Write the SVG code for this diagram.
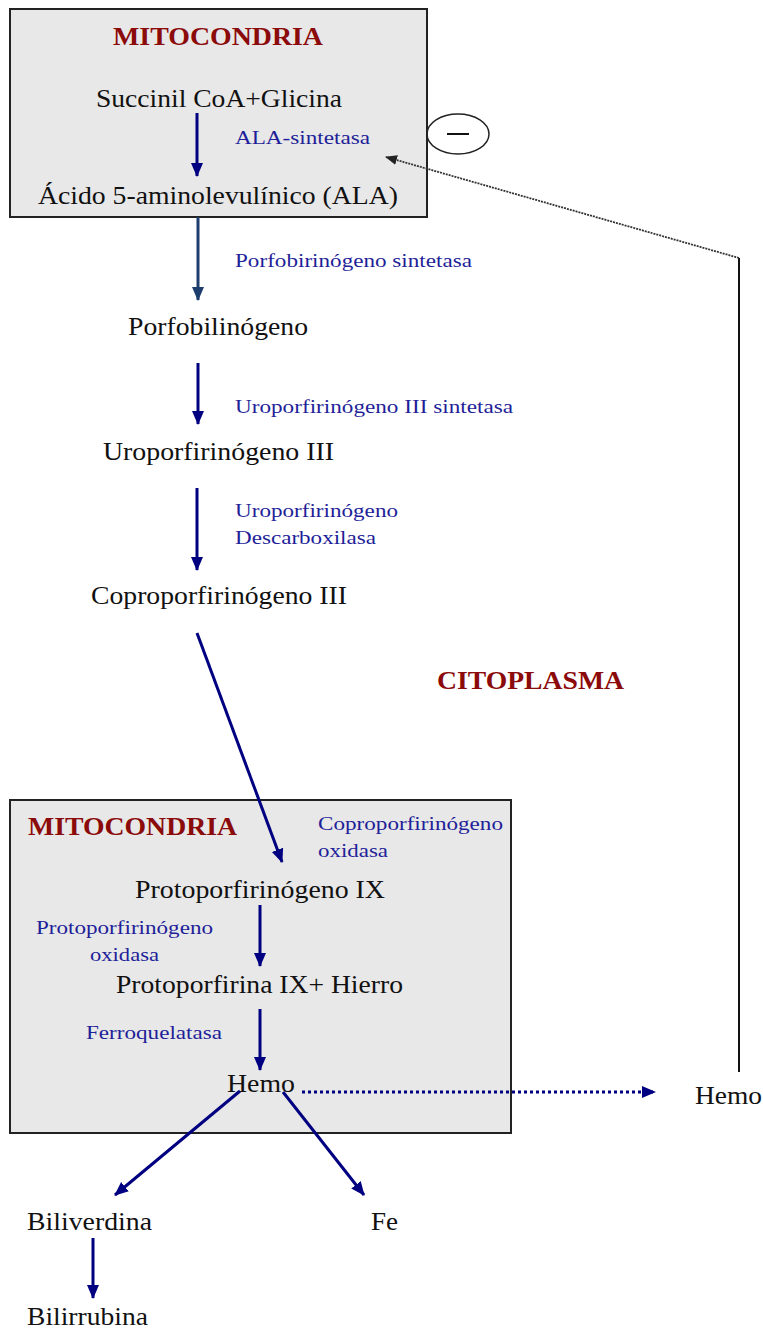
<svg xmlns="http://www.w3.org/2000/svg" width="763" height="1328" viewBox="0 0 763 1328">
<defs>
<style>
.box{fill:#e8e8e8;stroke:#222;stroke-width:2}
.t{font-family:"Liberation Serif","Times New Roman",serif;font-size:25px;fill:#111}
.e{font-family:"Liberation Serif","Times New Roman",serif;font-size:19px;fill:#1f1f99}
.h{font-family:"Liberation Serif","Times New Roman",serif;font-size:26px;font-weight:bold;fill:#8b0a0a}
.a{stroke:#000080;stroke-width:3;fill:none;marker-end:url(#ah)}
</style>
<marker id="ah" markerUnits="userSpaceOnUse" markerWidth="14" markerHeight="14" viewBox="0 0 14 14" refX="13" refY="7" orient="auto">
<path d="M0,1 L14,7 L0,13 Z" fill="#000080"/>
</marker>
<marker id="ah2" markerUnits="userSpaceOnUse" markerWidth="14" markerHeight="14" viewBox="0 0 14 14" refX="13" refY="7" orient="auto">
<path d="M0,1 L14,7 L0,13 Z" fill="#1c3d6e"/>
</marker>
<marker id="ahg" markerUnits="userSpaceOnUse" markerWidth="12" markerHeight="12" viewBox="0 0 12 12" refX="11" refY="6" orient="auto">
<path d="M0,1 L12,6 L0,11 Z" fill="#222"/>
</marker>
</defs>
<g id="mito-top">
<rect class="box" x="10" y="9" width="417" height="208"/>
<text class="h" x="113" y="45" textLength="210" lengthAdjust="spacingAndGlyphs">MITOCONDRIA</text>
</g>
<g id="succinil"><text class="t" x="96" y="107" textLength="246" lengthAdjust="spacingAndGlyphs">Succinil CoA+Glicina</text></g>
<g id="ala-sintetasa"><text class="e" x="235" y="144" textLength="135" lengthAdjust="spacingAndGlyphs">ALA-sintetasa</text></g>
<g id="ala"><text class="t" x="38" y="204" textLength="360" lengthAdjust="spacingAndGlyphs">Ácido 5-aminolevulínico (ALA)</text></g>
<g id="inhibicion">
<ellipse cx="458" cy="134" rx="31" ry="20" fill="none" stroke="#222" stroke-width="1.5"/>
<line x1="447" y1="134" x2="469" y2="134" stroke="#111" stroke-width="2"/>
</g>
<g id="porfo-sintetasa"><text class="e" x="235" y="267" textLength="237" lengthAdjust="spacingAndGlyphs">Porfobirinógeno sintetasa</text></g>
<g id="porfobilinogeno"><text class="t" x="128" y="335" textLength="180" lengthAdjust="spacingAndGlyphs">Porfobilinógeno</text></g>
<g id="uro-sintetasa"><text class="e" x="235" y="413" textLength="278" lengthAdjust="spacingAndGlyphs">Uroporfirinógeno III sintetasa</text></g>
<g id="uroporfirinogeno"><text class="t" x="103" y="460" textLength="231" lengthAdjust="spacingAndGlyphs">Uroporfirinógeno III</text></g>
<g id="uro-descarboxilasa">
<text class="e" x="235" y="517" textLength="163" lengthAdjust="spacingAndGlyphs">Uroporfirinógeno</text>
<text class="e" x="235" y="544" textLength="141" lengthAdjust="spacingAndGlyphs">Descarboxilasa</text>
</g>
<g id="coproporfirinogeno"><text class="t" x="91" y="604" textLength="256" lengthAdjust="spacingAndGlyphs">Coproporfirinógeno III</text></g>
<g id="citoplasma"><text class="h" x="437" y="689" textLength="187" lengthAdjust="spacingAndGlyphs">CITOPLASMA</text></g>
<g id="mito-bottom">
<rect class="box" x="10" y="800" width="501" height="333"/>
<text class="h" x="28" y="835" textLength="209" lengthAdjust="spacingAndGlyphs">MITOCONDRIA</text>
</g>
<g id="copro-oxidasa">
<text class="e" x="318" y="830" textLength="185" lengthAdjust="spacingAndGlyphs">Coproporfirinógeno</text>
<text class="e" x="318" y="857" textLength="70" lengthAdjust="spacingAndGlyphs">oxidasa</text>
</g>
<g id="protoporfirinogeno"><text class="t" x="135" y="898" textLength="250" lengthAdjust="spacingAndGlyphs">Protoporfirinógeno IX</text></g>
<g id="proto-oxidasa">
<text class="e" x="36" y="934" textLength="177" lengthAdjust="spacingAndGlyphs">Protoporfirinógeno</text>
<text class="e" x="90" y="961" textLength="69" lengthAdjust="spacingAndGlyphs">oxidasa</text>
</g>
<g id="protoporfirina"><text class="t" x="116" y="993" textLength="287" lengthAdjust="spacingAndGlyphs">Protoporfirina IX+ Hierro</text></g>
<g id="ferroquelatasa"><text class="e" x="86" y="1039" textLength="136" lengthAdjust="spacingAndGlyphs">Ferroquelatasa</text></g>
<g id="hemo"><text class="t" x="227" y="1092" textLength="68" lengthAdjust="spacingAndGlyphs">Hemo</text></g>
<g id="hemo-citoplasma"><text class="t" x="695" y="1104" textLength="67" lengthAdjust="spacingAndGlyphs">Hemo</text></g>
<g id="biliverdina"><text class="t" x="27" y="1230" textLength="125" lengthAdjust="spacingAndGlyphs">Biliverdina</text></g>
<g id="fe"><text class="t" x="371" y="1230" textLength="27" lengthAdjust="spacingAndGlyphs">Fe</text></g>
<g id="bilirrubina"><text class="t" x="27" y="1325" textLength="121" lengthAdjust="spacingAndGlyphs">Bilirrubina</text></g>
<g id="connectors">
<line class="a" x1="197" y1="113" x2="197" y2="176"/>
<line x1="198" y1="217" x2="198" y2="300" stroke="#1c3d6e" stroke-width="3" marker-end="url(#ah2)"/>
<line class="a" x1="198" y1="363" x2="198" y2="424"/>
<line class="a" x1="197" y1="488" x2="197" y2="570"/>
<line class="a" x1="197" y1="633" x2="282" y2="862"/>
<line class="a" x1="260" y1="905" x2="260" y2="966"/>
<line class="a" x1="260" y1="1009" x2="260" y2="1070"/>
<line class="a" x1="240" y1="1091" x2="115" y2="1195"/>
<line class="a" x1="283" y1="1092" x2="364" y2="1195"/>
<line class="a" x1="93" y1="1238" x2="93" y2="1298"/>
<line x1="302" y1="1092" x2="655" y2="1092" stroke="#000080" stroke-width="3" stroke-dasharray="3,3" marker-end="url(#ah)"/>
<line x1="739" y1="1072" x2="739" y2="258" stroke="#111" stroke-width="2"/>
<line x1="739" y1="258" x2="386" y2="157" stroke="#333" stroke-width="1.8" stroke-dasharray="2,1" marker-end="url(#ahg)"/>
</g>
</svg>
